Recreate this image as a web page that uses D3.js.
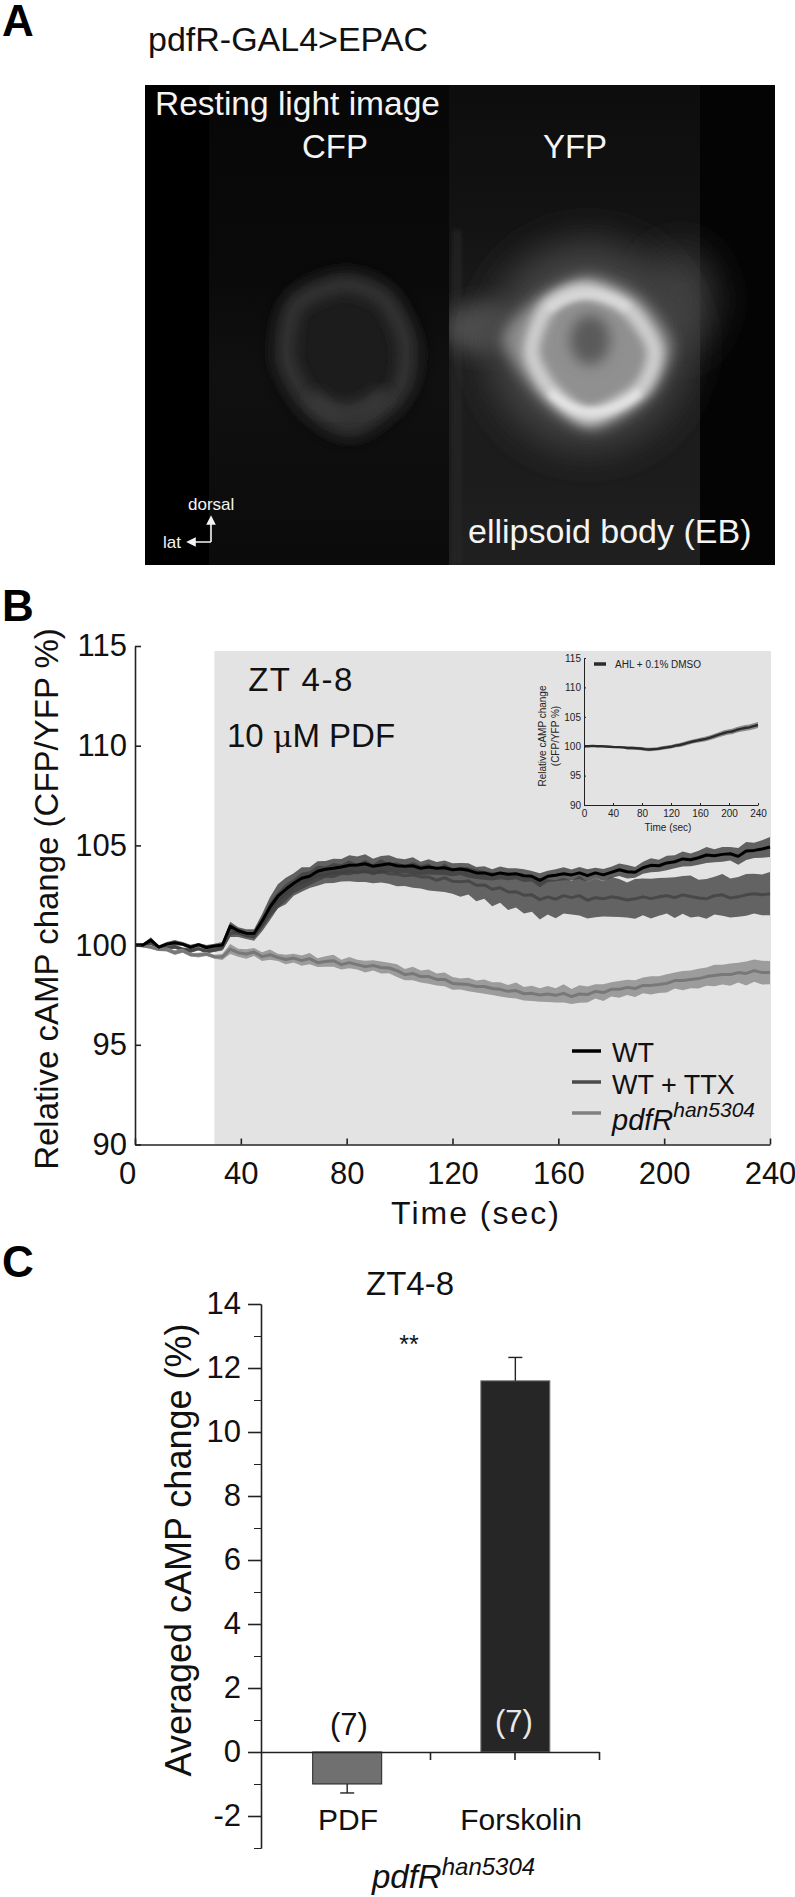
<!DOCTYPE html>
<html><head><meta charset="utf-8">
<script src="https://cdn.jsdelivr.net/npm/d3@7/dist/d3.min.js"></script>
<style>
html,body{margin:0;padding:0;background:#fff}
svg{display:block}
text{font-family:"Liberation Sans",Arial,sans-serif}
.axis path,.axis line{stroke:#222}
</style></head><body>
<svg id="fig" width="795" height="1897" fill="#111"></svg>
<script>
// ---------- Panel B data, one value per 3 s from 0 to 240 s
const timeStep = 3;
const wtMean = [100,100,100.25,99.9,100.05,100.12,100.05,99.9,100.02,99.88,99.95,100,100.95,100.72,100.6,100.58,101.2,101.9,102.45,102.8,103.1,103.35,103.45,103.7,103.8,103.85,103.92,104,104.02,104.08,103.95,104.02,104.08,103.98,103.95,103.98,103.85,103.92,103.85,103.88,103.78,103.82,103.75,103.62,103.62,103.52,103.62,103.55,103.58,103.48,103.45,103.25,103.45,103.5,103.58,103.52,103.62,103.48,103.62,103.52,103.65,103.78,103.68,103.65,103.88,104,103.98,104.12,104.18,104.32,104.28,104.38,104.52,104.48,104.55,104.58,104.45,104.72,104.75,104.82,104.92];
const wtErr = [.05,.08,.14,.08,.1,.13,.1,.12,.09,.12,.12,.15,.22,.18,.2,.22,.35,.5,.6,.58,.5,.55,.45,.5,.42,.48,.4,.5,.42,.48,.38,.45,.42,.38,.35,.42,.33,.38,.32,.36,.33,.3,.36,.3,.34,.28,.32,.3,.28,.32,.26,.35,.28,.3,.33,.27,.3,.32,.26,.3,.28,.31,.34,.27,.3,.35,.3,.36,.33,.38,.32,.35,.4,.33,.37,.34,.42,.45,.38,.44,.5];
const ttxMean = [100,100,100.1,99.85,99.85,99.92,99.78,99.72,99.82,99.68,99.75,99.85,100.6,100.62,100.48,100.42,101,101.7,102.25,102.55,102.9,103.15,103.28,103.48,103.52,103.62,103.62,103.72,103.62,103.72,103.58,103.72,103.58,103.55,103.48,103.52,103.42,103.42,103.25,103.38,103.2,103.18,103.22,103,103.02,102.8,102.88,102.66,102.68,102.5,102.52,102.28,102.42,102.3,102.48,102.38,102.48,102.25,102.38,102.32,102.42,102.36,102.26,102.32,102.42,102.33,102.42,102.48,102.38,102.52,102.44,102.36,102.32,102.48,102.52,102.36,102.42,102.52,102.58,102.52,102.58];
const ttxErr = [.05,.08,.1,.08,.12,.1,.1,.12,.08,.1,.1,.12,.2,.22,.18,.2,.32,.45,.4,.5,.42,.48,.42,.5,.42,.5,.43,.52,.45,.55,.48,.58,.5,.6,.52,.65,.58,.68,.55,.72,.62,.75,.68,.8,.7,.85,.75,.9,.8,.92,.85,1,.88,.95,.9,.85,1,.92,.98,.88,1,.95,.88,1,.92,1,.95,.9,1.02,.95,1.05,.92,1,.95,1.05,.98,1,1.05,1,1.02,1.08];
const pdfrMean = [100,99.95,99.9,99.78,99.78,99.62,99.72,99.52,99.5,99.55,99.42,99.4,99.8,99.62,99.55,99.65,99.42,99.52,99.38,99.28,99.35,99.22,99.32,99.12,99.18,99.22,99.02,99.12,99.02,98.92,98.98,98.88,98.85,98.72,98.52,98.58,98.42,98.42,98.28,98.28,98.08,98.05,98.02,97.92,97.92,97.82,97.78,97.68,97.72,97.56,97.58,97.5,97.55,97.48,97.58,97.42,97.55,97.52,97.68,97.62,97.78,97.78,97.88,97.82,97.98,97.98,98.02,98.08,98.22,98.22,98.28,98.32,98.42,98.48,98.52,98.52,98.62,98.58,98.72,98.62,98.62];
const pdfrErr = [.05,.06,.09,.07,.1,.12,.1,.09,.12,.1,.1,.15,.25,.2,.24,.2,.22,.26,.18,.24,.22,.26,.28,.22,.26,.3,.24,.28,.24,.3,.26,.3,.26,.32,.28,.34,.3,.36,.3,.34,.32,.28,.34,.3,.36,.32,.36,.32,.4,.34,.38,.34,.4,.36,.46,.38,.44,.4,.36,.42,.36,.42,.38,.42,.4,.46,.42,.46,.4,.48,.44,.5,.46,.54,.5,.56,.5,.6,.56,.6,.58];
// ---------- Inset data, one value per 6 s from 0 to 240 s
const insetStep = 6;
const insetMean = [100,100,100.05,100,100,99.95,99.9,99.85,99.85,99.8,99.7,99.7,99.65,99.6,99.5,99.45,99.5,99.55,99.7,99.8,99.9,100.1,100.2,100.4,100.6,100.8,100.95,101.1,101.25,101.45,101.7,101.95,102.2,102.4,102.5,102.75,102.95,103.1,103.2,103.4,103.6];
const insetErr = [.05,.05,.08,.08,.1,.12,.15,.15,.2,.2,.25,.25,.25,.28,.3,.3,.3,.3,.3,.3,.3,.32,.35,.35,.35,.35,.38,.4,.4,.4,.42,.42,.45,.45,.45,.48,.5,.5,.5,.5,.5];
const timeTicks = [0,40,80,120,160,200,240];
const cAMPTicks = [90,95,100,105,110,115];
const pdfOnset = 30;
// ---------- Panel C data
const barNames = ["PDF","Forskolin"];
const barValues = [-1.0,11.6];
const barErrors = [0.28,0.73];
const barN = ["(7)","(7)"];
const barTicks = [-2,0,2,4,6,8,10,12,14];
const barMinorTicks = [-3,-1,1,3,5,7,9,11,13];

const svg = d3.select("#fig");
const defs = svg.append("defs");
const FONT = '"Liberation Sans",Arial,sans-serif';
function T(g,x,y,s,size,opt={}){
  const t=g.append("text").attr("x",x).attr("y",y).attr("font-size",size).text(s);
  for(const k in opt) t.attr(k,opt[k]);
  return t;
}

// ================= Panel A =================
T(svg,2,36,"A",44,{"font-weight":"bold",fill:"#000"});
T(svg,148,51,"pdfR-GAL4>EPAC",34);
[["b20",20],["b10",10],["b7",7],["b5",5],["b3",3]].forEach(([id,s])=>{
  const f=defs.append("filter").attr("id",id).attr("x","-50%").attr("y","-50%").attr("width","200%").attr("height","200%");
  f.append("feGaussianBlur").attr("stdDeviation",s);
});
const clipY=defs.append("clipPath").attr("id","clipY");
clipY.append("rect").attr("x",449).attr("y",85).attr("width",326).attr("height",480);
const clipC=defs.append("clipPath").attr("id","clipC");
clipC.append("rect").attr("x",145).attr("y",85).attr("width",304).attr("height",480);
const grad=defs.append("linearGradient").attr("id","bandFade").attr("x1",0).attr("x2",0).attr("y1",0).attr("y2",1);
[[0,"#0d0d0d"],[.3,"#131313"],[.5,"#1e1e1e"],[.8,"#1c1c1c"],[1,"#202020"]].forEach(([o,c])=>grad.append("stop").attr("offset",o).attr("stop-color",c));
const gradC=defs.append("linearGradient").attr("id","bandFadeC").attr("x1",0).attr("x2",0).attr("y1",0).attr("y2",1);
[[0,"#070707"],[.4,"#0a0a0a"],[.6,"#101010"],[1,"#0b0b0b"]].forEach(([o,c])=>gradC.append("stop").attr("offset",o).attr("stop-color",c));
const gA=svg.append("g");
const closed=d3.line().curve(d3.curveCardinalClosed.tension(0.2));
gA.append("rect").attr("x",145).attr("y",85).attr("width",630).attr("height",480).attr("fill","#000");
gA.append("rect").attr("x",209).attr("y",85).attr("width",240).attr("height",480).attr("fill","url(#bandFadeC)");
gA.append("rect").attr("x",449).attr("y",85).attr("width",251).attr("height",480).attr("fill","url(#bandFade)");
gA.append("rect").attr("x",700).attr("y",85).attr("width",75).attr("height",480).attr("fill","#040404");
gA.append("rect").attr("x",454).attr("y",230).attr("width",6).attr("height",335).attr("fill","#282828").attr("filter","url(#b3)").attr("clip-path","url(#clipY)");
// CFP ring
const cfp=gA.append("g").attr("clip-path","url(#clipC)");
const cfpOutline=[[345,284],[385,300],[406,345],[398,392],[352,426],[312,405],[287,360],[296,305]];
cfp.append("path").attr("d",closed(cfpOutline)+"Z").attr("fill","#1e1e1e").attr("stroke","#1e1e1e").attr("stroke-width",24).attr("filter","url(#b10)");
cfp.append("path").attr("d",closed(cfpOutline)+"Z").attr("fill","none").attr("stroke","#343434").attr("stroke-width",16).attr("filter","url(#b7)");
cfp.append("path").attr("d","M312,395Q345,430 385,392").attr("fill","none").attr("stroke","#3e3e3e").attr("stroke-width",14).attr("filter","url(#b7)");
// YFP ring
const yfp=gA.append("g").attr("clip-path","url(#clipY)");
yfp.append("ellipse").attr("cx",485).attr("cy",328).attr("rx",42).attr("ry",26).attr("fill","#4e4e4e").attr("filter","url(#b10)");
yfp.append("ellipse").attr("cx",680).attr("cy",300).attr("rx",34).attr("ry",50).attr("fill","#404040").attr("filter","url(#b20)");
yfp.append("ellipse").attr("cx",588).attr("cy",345).attr("rx",100).attr("ry",104).attr("fill","#444").attr("filter","url(#b20)");
const yfpOuter=[[588,276],[640,298],[672,345],[650,396],[592,430],[540,398],[503,340],[535,300]];
yfp.append("path").attr("d",closed(yfpOuter)+"Z").attr("fill","#8c8c8c").attr("filter","url(#b7)");
const yfpRing=[[585,290],[628,308],[655,350],[640,390],[590,416],[552,392],[531,352],[548,306]];
yfp.append("path").attr("d",closed(yfpRing)+"Z").attr("fill","#909090").attr("stroke","#cfcfcf").attr("stroke-width",15).attr("filter","url(#b5)");
yfp.append("path").attr("d","M550,392Q590,432 640,392").attr("fill","none").attr("stroke","#e8e8e8").attr("stroke-width",7).attr("filter","url(#b3)");
yfp.append("path").attr("d","M548,310Q585,280 628,308").attr("fill","none").attr("stroke","#dcdcdc").attr("stroke-width",7).attr("filter","url(#b3)");
yfp.append("ellipse").attr("cx",590).attr("cy",340).attr("rx",20).attr("ry",25).attr("fill","#5a5a5a").attr("filter","url(#b7)");
const aText="#f4f4f4";
T(svg,155,115,"Resting light image",33.5,{fill:aText});
T(svg,335,158,"CFP",33,{fill:aText,"text-anchor":"middle"});
T(svg,575,158,"YFP",33,{fill:aText,"text-anchor":"middle"});
T(svg,468,543,"ellipsoid body (EB)",34,{fill:aText});
T(svg,188,510,"dorsal",17,{fill:aText});
T(svg,163,548,"lat",17,{fill:aText});
svg.append("path").attr("d","M211,542H188M188,542l7,-3.5v7zM211,542V517M211,517l-3.5,7h7z").attr("stroke",aText).attr("stroke-width",1.6).attr("fill",aText);

// ================= Panel B =================
T(svg,2,621,"B",44,{"font-weight":"bold",fill:"#000"});
const xB=d3.scaleLinear().domain([0,240]).range([135,770]);
const yB=d3.scaleLinear().domain([90,115]).range([1144.5,646]);
svg.append("rect").attr("x",xB(pdfOnset)).attr("y",yB(115)+5).attr("width",771-xB(pdfOnset)).attr("height",yB(90)-yB(115)-5).attr("fill","#e3e3e3");

function drawSeries(g,x,y,step,mean,err,band,line,lw,bandOp=1){
  const pts=mean.map((m,i)=>({t:i*step,m,e:err[i]}));
  g.append("path").datum(pts).attr("fill",band).attr("fill-opacity",bandOp)
    .attr("d",d3.area().x(d=>x(d.t)).y0(d=>y(d.m-d.e)).y1(d=>y(d.m+d.e)));
  g.append("path").datum(pts).attr("fill","none").attr("stroke",line).attr("stroke-width",lw).attr("stroke-linejoin","round")
    .attr("d",d3.line().x(d=>x(d.t)).y(d=>y(d.m)));
}
const gB=svg.append("g");
drawSeries(gB,xB,yB,timeStep,ttxMean,ttxErr,"#636363","#484848",3);
drawSeries(gB,xB,yB,timeStep,pdfrMean,pdfrErr,"#9c9c9c","#787878",3);
drawSeries(gB,xB,yB,timeStep,wtMean,wtErr,"#3e3e3e","#000",3,.8);

const axBx=svg.append("g").attr("class","axis").attr("transform",`translate(0,${yB(90)})`)
  .call(d3.axisBottom(xB).tickValues(timeTicks).tickSizeInner(-6).tickSizeOuter(0).tickPadding(17));
axBx.selectAll("text").attr("font-size",31).attr("font-family",FONT).attr("fill","#111");
axBx.selectAll(".tick text").filter(d=>d===0).attr("dx",-8);
const axBy=svg.append("g").attr("class","axis").attr("transform",`translate(${xB(0)},0)`)
  .call(d3.axisLeft(yB).tickValues(cAMPTicks).tickSizeInner(-6).tickSizeOuter(0).tickPadding(8));
axBy.selectAll("text").attr("font-size",31).attr("font-family",FONT).attr("fill","#111");
axBx.selectAll("path,line").attr("stroke-width",1.6);
axBy.selectAll("path,line").attr("stroke-width",1.6);
svg.append("text").attr("transform","translate(58,899) rotate(-90)").attr("text-anchor","middle").attr("font-size",33).text("Relative cAMP change (CFP/YFP %)");
T(svg,476,1224,"Time (sec)",32,{"text-anchor":"middle","letter-spacing":"2"});
T(svg,301,691,"ZT 4-8",33,{"text-anchor":"middle","letter-spacing":"1.5"});
const t10=T(svg,227,747,"10 ",33);
t10.append("tspan").attr("font-family","'DejaVu Serif'").attr("font-size",30).text("μ");
t10.append("tspan").text("M PDF");

// legend
const legY=[1051,1082,1113];
const legendNames=["WT","WT + TTX"];
const legendColors=["#000","#4a4a4a","#808080"];
legY.forEach((y,i)=>svg.append("line").attr("x1",572).attr("x2",601).attr("y1",y).attr("y2",y).attr("stroke",legendColors[i]).attr("stroke-width",3.5));
T(svg,612,1062,legendNames[0],27);
T(svg,612,1094,legendNames[1],27);
const lp=T(svg,612,1130,"pdfR",29,{"font-style":"italic"});
lp.append("tspan").attr("dy",-13).attr("font-size",21).text("han5304");

// inset
const xI=d3.scaleLinear().domain([0,240]).range([584,758]);
const yI=d3.scaleLinear().domain([90,115]).range([805,658]);
drawSeries(svg.append("g"),xI,yI,insetStep,insetMean,insetErr,"#8c8c8c","#2b2b2b",2.4);
const axIx=svg.append("g").attr("class","axis").attr("transform",`translate(0,${yI(90)})`)
  .call(d3.axisBottom(xI).tickValues(timeTicks).tickSizeInner(-2).tickSizeOuter(0).tickPadding(5));
axIx.selectAll("text").attr("font-size",10).attr("font-family",FONT).attr("fill","#222");
const axIy=svg.append("g").attr("class","axis").attr("transform",`translate(${xI(0)},0)`)
  .call(d3.axisLeft(yI).tickValues(cAMPTicks).tickSizeInner(-2).tickSizeOuter(0).tickPadding(3));
axIy.selectAll("text").attr("font-size",10).attr("font-family",FONT).attr("fill","#222");
svg.append("text").attr("transform","translate(546,736) rotate(-90)").attr("text-anchor","middle").attr("font-size",10).attr("fill","#222").text("Relative cAMP change");
svg.append("text").attr("transform","translate(559,736) rotate(-90)").attr("text-anchor","middle").attr("font-size",10).attr("fill","#222").text("(CFP/YFP %)");
T(svg,668,831,"Time (sec)",10,{"text-anchor":"middle",fill:"#222"});
svg.append("line").attr("x1",594).attr("x2",606).attr("y1",664).attr("y2",664).attr("stroke","#2b2b2b").attr("stroke-width",3.5);
T(svg,615,668,"AHL + 0.1% DMSO",10,{fill:"#222"});

// ================= Panel C =================
T(svg,2,1277,"C",44,{"font-weight":"bold",fill:"#000"});
const xC=d3.scaleLinear().domain([0,4]).range([261,599]);
const yC=d3.scaleLinear().domain([-3,14]).range([1848,1304]);
const barPos=[1.02,3.01];
const barW=69;
const gC=svg.append("g");
gC.selectAll("rect").data(barValues).join("rect")
  .attr("x",(d,i)=>xC(barPos[i])-barW/2).attr("width",barW)
  .attr("y",d=>Math.min(yC(0),yC(d))).attr("height",d=>Math.abs(yC(d)-yC(0)))
  .attr("fill",(d,i)=>i?"#262626":"#707070").attr("stroke",(d,i)=>i?"#777":"#222").attr("stroke-width",1);
barValues.forEach((v,i)=>{
  const end=v+Math.sign(v)*barErrors[i], cx=xC(barPos[i]);
  gC.append("line").attr("x1",cx).attr("x2",cx).attr("y1",yC(v)).attr("y2",yC(end)).attr("stroke","#222").attr("stroke-width",1.4);
  gC.append("line").attr("x1",cx-7).attr("x2",cx+7).attr("y1",yC(end)).attr("y2",yC(end)).attr("stroke","#222").attr("stroke-width",1.4);
});
const axCy=svg.append("g").attr("class","axis").attr("transform",`translate(${xC(0)},0)`)
  .call(d3.axisLeft(yC).tickValues(barTicks).tickSizeInner(13).tickSizeOuter(0).tickPadding(7).tickFormat(d=>String(d)));
axCy.selectAll("text").attr("font-size",31).attr("font-family",FONT).attr("fill","#111");
svg.append("g").attr("class","axis").attr("transform",`translate(${xC(0)},0)`)
  .call(d3.axisLeft(yC).tickValues(barMinorTicks).tickSizeInner(7).tickSizeOuter(0).tickFormat(""));
const axCx=svg.append("g").attr("class","axis").attr("transform",`translate(0,${yC(0)})`)
  .call(d3.axisBottom(xC).tickValues([2,3,4]).tickSizeInner(8).tickSizeOuter(0).tickFormat(""));
axCy.selectAll("path,line").attr("stroke-width",1.6);
axCx.selectAll("path,line").attr("stroke-width",1.6);
svg.append("text").attr("transform","translate(191,1550) rotate(-90)").attr("text-anchor","middle").attr("font-size",36).text("Averaged cAMP change (%)");
T(svg,410,1295,"ZT4-8",33,{"text-anchor":"middle"});
T(svg,409,1353,"**",25,{"text-anchor":"middle"});
T(svg,349,1735,barN[0],31,{"text-anchor":"middle"});
T(svg,514,1732,barN[1],31,{"text-anchor":"middle",fill:"#e8e8e8"});
T(svg,348,1830,barNames[0],30,{"text-anchor":"middle"});
T(svg,521,1830,barNames[1],30,{"text-anchor":"middle"});
const cp=T(svg,372,1888,"pdfR",33,{"font-style":"italic"});
cp.append("tspan").attr("dy",-13).attr("font-size",24).text("han5304");
</script>
</body></html>
